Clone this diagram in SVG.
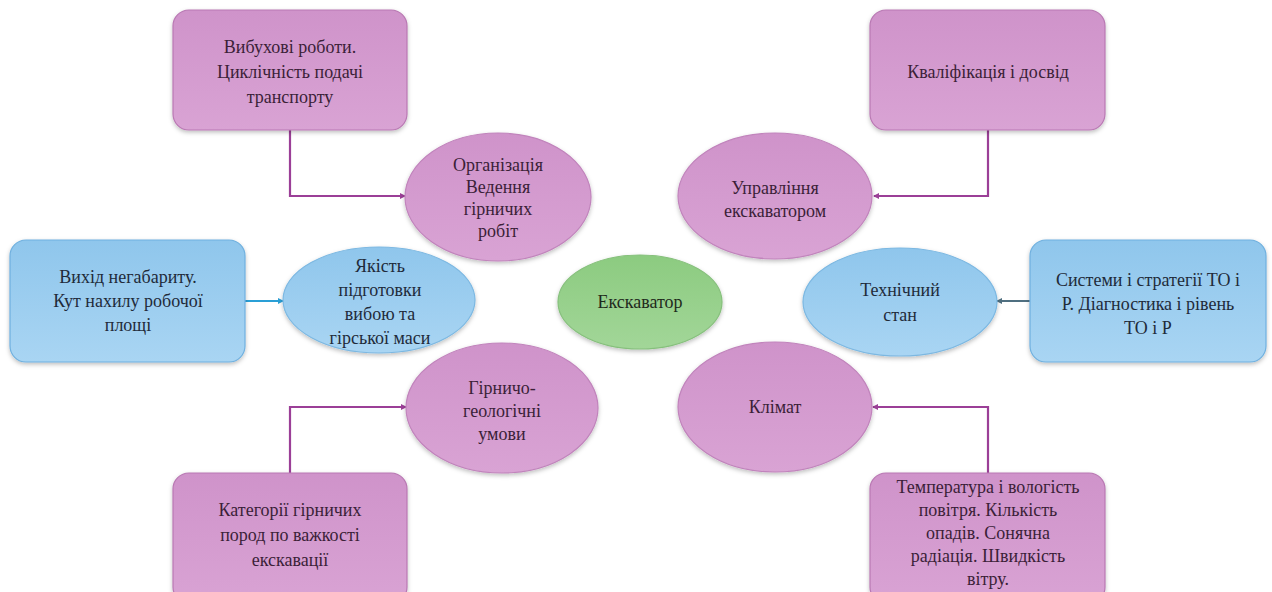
<svg xmlns="http://www.w3.org/2000/svg" width="1272" height="592" viewBox="0 0 1272 592">
<style>
text{font-family:"Liberation Serif","Times New Roman","DejaVu Serif",serif;font-size:18px;text-anchor:middle;dominant-baseline:central}
.pt{fill:#3b1f38}
.bt{fill:#1f2b3a}
.gt{fill:#1f2a1c}
.pbox{fill:url(#gp);stroke:#b978b3;stroke-width:1.2;filter:url(#sh)}
.bbox{fill:url(#gb);stroke:#6fb0df;stroke-width:1.2;filter:url(#sh)}
.pel{fill:url(#gp);stroke:#c184bc;stroke-width:1.2;filter:url(#sh)}
.bel{fill:url(#gb);stroke:#7cb8e2;stroke-width:1.2;filter:url(#sh)}
.gel{fill:url(#gg);stroke:#86c07c;stroke-width:1.2;filter:url(#sh)}
.cp{fill:none;stroke:#9b3f97;stroke-width:2.2}
.cb{fill:none;stroke:#2a9fd6;stroke-width:2.2}
.cg{fill:none;stroke:#4f6f80;stroke-width:2.2}
</style>
<defs>
<linearGradient id="gp" x1="0" y1="0" x2="0" y2="1"><stop offset="0" stop-color="#cf93ca"/><stop offset="1" stop-color="#d9a3d4"/></linearGradient>
<linearGradient id="gb" x1="0" y1="0" x2="0" y2="1"><stop offset="0" stop-color="#8fc6ec"/><stop offset="1" stop-color="#a9d5f3"/></linearGradient>
<linearGradient id="gg" x1="0" y1="0" x2="0" y2="1"><stop offset="0" stop-color="#8ccb80"/><stop offset="1" stop-color="#a2d698"/></linearGradient>
<filter id="sh" x="-10%" y="-10%" width="120%" height="125%"><feDropShadow dx="0" dy="2" stdDeviation="2" flood-color="#000" flood-opacity="0.25"/></filter>
<marker id="ap" markerWidth="6" markerHeight="6" refX="5" refY="3" orient="auto" markerUnits="userSpaceOnUse"><path d="M0,0 L6,3 L0,6 z" fill="#9b3f97"/></marker>
<marker id="ab" markerWidth="6" markerHeight="6" refX="5" refY="3" orient="auto" markerUnits="userSpaceOnUse"><path d="M0,0 L6,3 L0,6 z" fill="#2a9fd6"/></marker>
<marker id="ag" markerWidth="6" markerHeight="6" refX="5" refY="3" orient="auto" markerUnits="userSpaceOnUse"><path d="M0,0 L6,3 L0,6 z" fill="#4f6f80"/></marker>
</defs>
<rect width="1272" height="592" fill="#ffffff"/>

<g id="connectors">
<path class="cp" d="M290,130 V196 H405" marker-end="url(#ap)"/>
<path class="cp" d="M988,130 V196 H874" marker-end="url(#ap)"/>
<path class="cb" d="M245,301 H283" marker-end="url(#ab)"/>
<path class="cg" d="M1030,301 H997" marker-end="url(#ag)"/>
<path class="cp" d="M290,473 V407 H406" marker-end="url(#ap)"/>
<path class="cp" d="M988,473 V407 H873" marker-end="url(#ap)"/>
</g>

<g id="box-vybukhovi">
<rect class="pbox" x="173" y="10" width="234" height="120" rx="16"/>
<text class="pt" x="290" y="47">Вибухові роботи.</text>
<text class="pt" x="290" y="72">Циклічність подачі</text>
<text class="pt" x="290" y="97">транспорту</text>
</g>

<g id="box-kvalifikatsiia">
<rect class="pbox" x="870" y="10" width="235" height="120" rx="16"/>
<text class="pt" x="988" y="72">Кваліфікація і досвід</text>
</g>

<g id="box-vykhid">
<rect class="bbox" x="10" y="240" width="235" height="122" rx="16"/>
<text class="bt" x="128" y="277">Вихід негабариту.</text>
<text class="bt" x="128" y="301">Кут нахилу робочої</text>
<text class="bt" x="128" y="325">площі</text>
</g>

<g id="box-systemy">
<rect class="bbox" x="1030" y="240" width="236" height="122" rx="16"/>
<text class="bt" x="1148" y="280">Системи і стратегії ТО і</text>
<text class="bt" x="1148" y="304">Р. Діагностика і рівень</text>
<text class="bt" x="1148" y="328">ТО і Р</text>
</g>

<g id="box-katehorii">
<rect class="pbox" x="173" y="473" width="234" height="130" rx="16"/>
<text class="pt" x="290" y="510">Категорії гірничих</text>
<text class="pt" x="290" y="535">пород по важкості</text>
<text class="pt" x="290" y="560">екскавації</text>
</g>

<g id="box-temperatura">
<rect class="pbox" x="870" y="473" width="235" height="130" rx="16"/>
<text class="pt" x="988" y="487">Температура і вологість</text>
<text class="pt" x="988" y="510">повітря. Кількість</text>
<text class="pt" x="988" y="533">опадів. Сонячна</text>
<text class="pt" x="988" y="556">радіація. Швидкість</text>
<text class="pt" x="988" y="579">вітру.</text>
</g>

<g id="el-orhanizatsiia">
<ellipse class="pel" cx="498" cy="197" rx="93" ry="64"/>
<text class="pt" x="498" y="165">Організація</text>
<text class="pt" x="498" y="187">Ведення</text>
<text class="pt" x="498" y="209">гірничих</text>
<text class="pt" x="498" y="231">робіт</text>
</g>

<g id="el-upravlinnia">
<ellipse class="pel" cx="775" cy="196" rx="97" ry="63"/>
<text class="pt" x="775" y="188">Управління</text>
<text class="pt" x="775" y="211">екскаватором</text>
</g>

<g id="el-yakist">
<ellipse class="bel" cx="379" cy="300" rx="96" ry="53"/>
<text class="bt" x="380" y="266">Якість</text>
<text class="bt" x="380" y="290">підготовки</text>
<text class="bt" x="380" y="314">вибою та</text>
<text class="bt" x="380" y="338">гірської маси</text>
</g>

<g id="el-ekskavator">
<ellipse class="gel" cx="640" cy="302" rx="82" ry="47"/>
<text class="gt" x="640" y="302">Екскаватор</text>
</g>

<g id="el-tekhnichnyi">
<ellipse class="bel" cx="900" cy="302" rx="97" ry="54"/>
<text class="bt" x="900" y="290">Технічний</text>
<text class="bt" x="900" y="315">стан</text>
</g>

<g id="el-hirnycho">
<ellipse class="pel" cx="502" cy="408" rx="96" ry="65"/>
<text class="pt" x="502" y="388">Гірничо-</text>
<text class="pt" x="502" y="411">геологічні</text>
<text class="pt" x="502" y="434">умови</text>
</g>

<g id="el-klimat">
<ellipse class="pel" cx="775" cy="407" rx="97" ry="65"/>
<text class="pt" x="775" y="407">Клімат</text>
</g>
</svg>
